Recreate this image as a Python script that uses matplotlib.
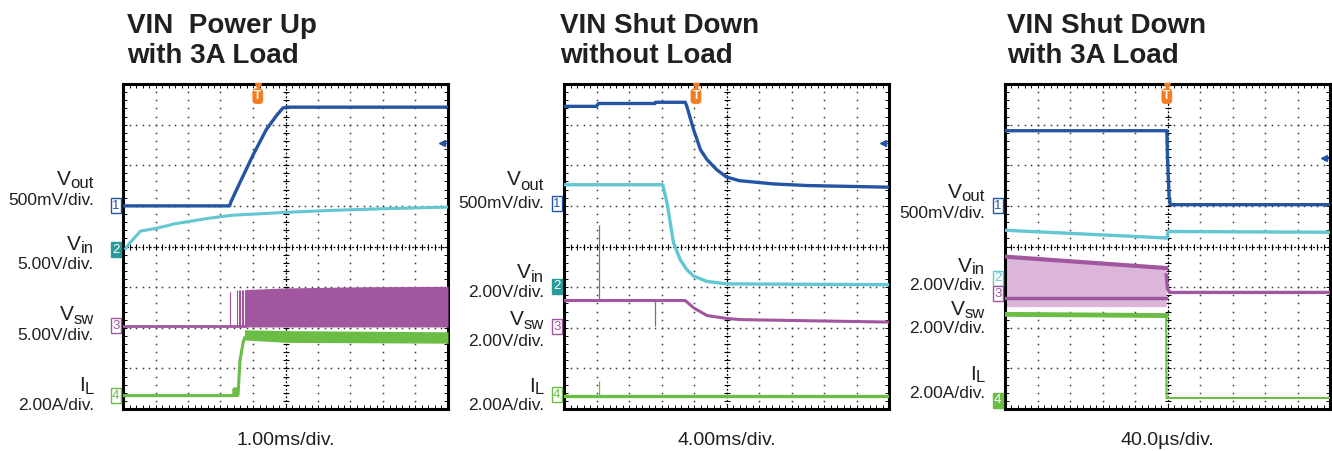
import numpy as np
import matplotlib
matplotlib.use('Agg')
import matplotlib.pyplot as plt

plt.rcParams['font.family'] = ['Liberation Sans', 'DejaVu Sans']

# scope traces in divisions (x 0..10, y 0..8)
# --- power up, 3A load
vout1_x = [0, 3.28, 3.33, 3.35, 3.59, 4.0, 4.41, 4.72, 4.92, 5.03, 10]
vout1_y = [5.0, 5.0, 5.12, 5.15, 5.56, 6.25, 6.88, 7.22, 7.41, 7.43, 7.43]
vin1_x = [0.08, 0.2, 0.54, 1.04, 1.6, 2.68, 3.38, 5.0, 6.46, 8.0, 10]
vin1_y = [3.95, 4.08, 4.38, 4.45, 4.56, 4.7, 4.77, 4.84, 4.89, 4.93, 4.97]
vsw1_x = [0, 3.74]
vsw1_y = [2.05, 2.05]
vsw1_spk_x = [3.28, 3.30, 3.50, 3.56, 3.60, 3.66, 3.70]
vsw1_spk_top = [2.87, 2.87, 2.94, 2.94, 2.94, 2.94, 2.94]
vsw1_band_x = [3.74, 5.0, 7.5, 10]
vsw1_band_top = [2.94, 2.98, 3.01, 3.02]
vsw1_band_bot = [2.02, 2.02, 2.02, 2.02]
il1_x = [0, 3.40, 3.42, 3.45, 3.50, 3.52, 3.54, 3.60, 3.70, 3.74]
il1_y = [0.33, 0.33, 0.5, 0.33, 0.5, 0.33, 0.35, 1.2, 1.65, 1.75]
il1_band_x = [3.74, 5.0, 10]
il1_band_top = [1.95, 1.93, 1.9]
il1_band_bot = [1.70, 1.64, 1.62]

# --- shut down, no load
vout2_x = [0, 1.0, 1.06, 2.8, 2.82, 3.73, 3.78, 3.99, 4.2, 4.4, 4.7, 5.0, 5.4, 6.45, 7.5, 10]
vout2_y = [7.45, 7.45, 7.52, 7.52, 7.55, 7.55, 7.45, 6.87, 6.38, 6.14, 5.89, 5.71, 5.62, 5.54, 5.5, 5.46]
vin2_x = [0, 3.04, 3.17, 3.27, 3.37, 3.58, 3.78, 3.99, 4.4, 5.0, 10]
vin2_y = [5.52, 5.52, 5.07, 4.58, 4.09, 3.67, 3.43, 3.27, 3.14, 3.08, 3.06]
vsw2_x = [0, 3.73, 3.99, 4.4, 5.0, 5.43, 10]
vsw2_y = [2.67, 2.67, 2.49, 2.30, 2.23, 2.20, 2.14]
vsw2_spk_x = [1.07, 2.79]
vsw2_spk_top = [4.54, 2.05]
il2_x = [0, 10]
il2_y = [0.31, 0.31]
il2_spk_x = [1.07]
il2_spk_top = [0.7]

# --- shut down, 3A load
vout3_x = [0, 4.98, 5.0, 5.05, 5.09, 10]
vout3_y = [6.85, 6.85, 6.2, 5.2, 5.03, 5.03]
vin3_x = [0, 4.96, 4.98, 5.02, 10]
vin3_y = [4.4, 4.21, 4.21, 4.37, 4.35]
vsw3_band_x = [0, 4.96]
vsw3_band_top = [3.75, 3.47]
vsw3_band_low = [2.73, 2.73]
vsw3_band_bot = [2.52, 2.52]
vsw3_x = [4.96, 5.0, 5.08, 10]
vsw3_y = [3.3, 2.95, 2.87, 2.87]
il3_x = [0, 4.96]
il3_y = [2.33, 2.30]
il3b_x = [4.96, 4.97, 10]
il3b_y = [2.30, 0.27, 0.27]

titles = [('VIN  Power Up', 'with 3A Load'),
          ('VIN Shut Down', 'without Load'),
          ('VIN Shut Down', 'with 3A Load')]
timebase = ['1.00ms/div.', '4.00ms/div.', '40.0\u00b5s/div.']
trig_x = [4.15, 4.06, 4.98]
ref_y = [6.55, 6.55, 6.18]
# channel ground markers: level per channel 1..4
ch_lvl = [[5.0, 3.92, 2.05, 0.33],
          [5.05, 3.02, 2.03, 0.35],
          [5.0, 3.22, 2.84, 0.21]]
ch_filled = [[False, True, False, False],
             [False, True, False, False],
             [False, False, False, True]]
scales = [['500mV/div.', '5.00V/div.', '5.00V/div.', '2.00A/div.'],
          ['500mV/div.', '2.00V/div.', '2.00V/div.', '2.00A/div.'],
          ['500mV/div.', '2.00V/div.', '2.00V/div.', '2.00A/div.']]

BLUE = '#2455a5'
CYAN = '#62c7d2'
TEAL = '#2a9a98'
PURP = '#a0579f'
GREEN = '#6bbd45'
ORANGE = '#f47b20'
TXT = '#231f20'

W, H = 1332, 451
fig = plt.figure(figsize=(W / 100, H / 100), dpi=100)
renderer = fig.canvas.get_renderer()

lefts = [123, 564, 1005]
title_x = [127, 560, 1007]
lab_right = [94, 544, 985]
# label baselines in pixels: (main, sub, desc) for each channel
lab_y = [[(185, 188, 205), (250, 253, 269), (320, 324, 340), (391, 394, 410)],
         [(185, 190, 208), (278, 282, 297), (325, 329, 346), (392, 394, 410)],
         [(198, 201, 218), (272, 274, 290), (315, 318, 333), (380, 382, 398)]]
lab_main = [('V', 'out'), ('V', 'in'), ('V', 'sw'), ('I', 'L')]

tx = np.arange(0, 10.01, 0.2)
ty = np.arange(0, 8.01, 0.2)

axes = []
for i in range(3):
    ax = fig.add_axes([lefts[i] / W, 1 - 409 / H, 325 / W, 325 / H])
    ax.set_xlim(0, 10)
    ax.set_ylim(0, 8)
    # dotted graticule, one dot every 0.2 div
    for k in range(1, 10):
        if k != 5:
            ax.plot(np.full_like(ty, k), ty, ls='none', marker='s', ms=1.1, mew=0,
                    color='#3a3a3a', zorder=1)
    for k in range(1, 8):
        if k != 4:
            ax.plot(tx, np.full_like(tx, k), ls='none', marker='s', ms=1.1, mew=0,
                    color='#3a3a3a', zorder=1)
    ax.axvline(5, ls=(0, (1.5, 1.5)), lw=0.9, color='black', zorder=1)
    ax.axhline(4, ls=(0, (1.5, 1.5)), lw=0.9, color='black', zorder=1)
    ax.plot(tx, np.full_like(tx, 4), ls='none', marker='|', ms=4, mew=0.8, color='black', zorder=1)
    ax.plot(np.full_like(ty, 5), ty, ls='none', marker='_', ms=4, mew=0.8, color='black', zorder=1)
    ax.set_xticks(np.arange(0, 10.01, 1))
    ax.set_yticks(np.arange(0, 8.01, 1))
    ax.set_xticks(tx, minor=True)
    ax.set_yticks(ty, minor=True)
    ax.tick_params(which='both', direction='in', length=3, width=0.7,
                   top=True, right=True, labelbottom=False, labelleft=False)
    for sp in ax.spines.values():
        sp.set_linewidth(2.2)
    axes.append(ax)

    fig.text(title_x[i] / W, 1 - 33 / H, titles[i][0], fontsize=20, fontweight='bold',
             color=TXT, va='baseline')
    fig.text(title_x[i] / W, 1 - 63 / H, titles[i][1], fontsize=20, fontweight='bold',
             color=TXT, va='baseline')
    fig.text((lefts[i] + 162.5) / W, 1 - 445 / H, timebase[i], fontsize=14,
             color=TXT, ha='center', va='baseline')

    # channel labels
    for c in range(4):
        ym, ys, yd = lab_y[i][c]
        s = fig.text(lab_right[i] / W, 1 - ys / H, lab_main[c][1], fontsize=12,
                     color=TXT, ha='right', va='baseline')
        w = s.get_window_extent(renderer).width
        fig.text((lab_right[i] - w) / W, 1 - ym / H, lab_main[c][0], fontsize=15,
                 color=TXT, ha='right', va='baseline')
        fig.text(lab_right[i] / W, 1 - yd / H, scales[i][c], fontsize=12.5,
                 color=TXT, ha='right', va='baseline')

    # channel ground markers
    ccols = [BLUE, TEAL if ch_filled[i][1] else CYAN, PURP, GREEN]
    for c in range(4):
        f = ch_filled[i][c]
        ax.text(-0.22, ch_lvl[i][c], str(c + 1), ha='center', va='center', fontsize=9.5,
                color='white' if f else ccols[c], clip_on=False, zorder=6,
                bbox=dict(boxstyle='square,pad=0.12', fc=ccols[c] if f else 'white',
                          ec=ccols[c], lw=1.0))

    # trigger marker and reference arrow
    ax.plot(trig_x[i], 7.96, marker='v', ms=4, color=ORANGE, clip_on=False, zorder=6)
    ax.text(trig_x[i], 7.7, 'T', ha='center', va='center', fontsize=8.5, color='white',
            fontweight='bold', zorder=6,
            bbox=dict(boxstyle='round,pad=0.12,rounding_size=0.3', fc=ORANGE, ec=ORANGE, lw=0.5))
    ax.plot(9.83, ref_y[i], marker='<', ms=4.5, color=BLUE, zorder=6)
    ax.plot([9.8, 9.93], [ref_y[i], ref_y[i]], lw=1, color=BLUE, zorder=6)

# panel 1
ax = axes[0]
ax.fill_between(vsw1_band_x, vsw1_band_bot, vsw1_band_top, color=PURP, lw=0, zorder=3)
ax.plot(vsw1_x, vsw1_y, color=PURP, lw=2, zorder=3)
ax.vlines(vsw1_spk_x, 2.05, vsw1_spk_top, color=PURP, lw=0.8, zorder=3)
ax.fill_between(il1_band_x, il1_band_bot, il1_band_top, color=GREEN, lw=0, zorder=3)
ax.plot(il1_x, il1_y, color=GREEN, lw=2.2, zorder=3)
ax.plot(vin1_x, vin1_y, color=CYAN, lw=2.2, zorder=4)
ax.plot(vout1_x, vout1_y, color=BLUE, lw=2.4, zorder=4)

# panel 2
ax = axes[1]
ax.plot(il2_x, il2_y, color=GREEN, lw=2.4, zorder=3)
ax.vlines(il2_spk_x, 0.31, il2_spk_top, color=GREEN, lw=0.9, zorder=3)
ax.plot(vsw2_x, vsw2_y, color=PURP, lw=2.2, zorder=3)
ax.vlines(vsw2_spk_x, 2.67, vsw2_spk_top, color=PURP, lw=0.9, zorder=3)
ax.plot(vin2_x, vin2_y, color=CYAN, lw=2.4, zorder=4)
ax.plot(vout2_x, vout2_y, color=BLUE, lw=2.4, zorder=4)

# panel 3
ax = axes[2]
ax.fill_between(vsw3_band_x, vsw3_band_bot, vsw3_band_top, color='#dcb6da', lw=0, zorder=2)
ax.plot(vsw3_band_x, vsw3_band_top, color=PURP, lw=3, zorder=3)
ax.plot(vsw3_band_x, vsw3_band_low, color=PURP, lw=2.5, zorder=3)
ax.plot(vsw3_x, vsw3_y, color=PURP, lw=2.4, zorder=3)
ax.plot(il3_x, il3_y, color=GREEN, lw=3.5, zorder=3)
ax.plot(il3b_x, il3b_y, color=GREEN, lw=1.5, zorder=3)
ax.plot(vin3_x, vin3_y, color=CYAN, lw=2.4, zorder=4)
ax.plot(vout3_x, vout3_y, color=BLUE, lw=2.4, zorder=4)

fig.savefig('out.png', dpi=100)
